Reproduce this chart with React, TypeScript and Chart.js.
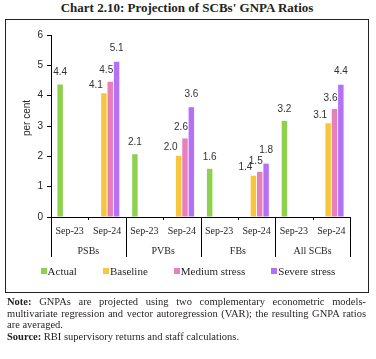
import React, { useEffect, useRef } from 'react';
import { Chart, registerables } from 'chart.js';

Chart.register(...registerables);

const categories = ['Sep-23', 'Sep-24', 'Sep-23', 'Sep-24', 'Sep-23', 'Sep-24', 'Sep-23', 'Sep-24'];
const groups = ['PSBs', 'PVBs', 'FBs', 'All SCBs'];
const seriesNames = ['Actual', 'Baseline', 'Medium stress', 'Severe stress'];
const actual = [4.37, null, 2.07, null, 1.59, null, 3.17, null];
const baseline = [null, 4.08, null, 2.02, null, 1.36, null, 3.09];
const medium = [null, 4.46, null, 2.59, null, 1.49, null, 3.56];
const severe = [null, 5.12, null, 3.62, null, 1.76, null, 4.36];
const yMin = 0;
const yMax = 6;
const yStep = 1;

const colors = ['#8fd14f', '#f8c63c', '#e77fb9', '#b571f6'];
const labelDx = [0, -8, -4, 0];
const labelDy = [12, 8, 11, 13];

const SANS = '"Liberation Sans", Arial, sans-serif';
const SERIF = '"Liberation Serif", "Times New Roman", serif';
const TEXT = '#262626';

const dataLabelPlugin = {
  id: 'dataLabels',
  afterDatasetsDraw(chart: any) {
    const ctx = chart.ctx;
    ctx.save();
    ctx.font = `10px ${SANS}`;
    ctx.fillStyle = '#333';
    ctx.textAlign = 'center';
    ctx.textBaseline = 'middle';
    chart.data.datasets.forEach((ds: any, i: number) => {
      const meta = chart.getDatasetMeta(i);
      meta.data.forEach((el: any, j: number) => {
        const v = ds.data[j];
        if (v == null) return;
        ctx.fillText(v.toFixed(1), el.x + labelDx[i], el.y - labelDy[i]);
      });
    });
    ctx.restore();
  },
};

const dividerPlugin = {
  id: 'dividers',
  afterDraw(chart: any) {
    const xs = chart.scales.x;
    const ctx = chart.ctx;
    const n = categories.length;
    const w = xs.getPixelForValue(1) - xs.getPixelForValue(0);
    ctx.save();
    ctx.strokeStyle = '#000';
    ctx.lineWidth = 1;
    for (let i = 0; i <= n; i++) {
      const px = Math.round(xs.getPixelForValue(0) - w / 2 + i * w) + 0.5;
      const len = i % 2 === 0 ? 40 : 3;
      ctx.beginPath();
      ctx.moveTo(px, xs.top);
      ctx.lineTo(px, xs.top + len);
      ctx.stroke();
    }
    // y-axis title
    const ys = chart.scales.y;
    ctx.font = `10px ${SANS}`;
    ctx.fillStyle = TEXT;
    ctx.textAlign = 'center';
    ctx.textBaseline = 'middle';
    ctx.translate(ys.left + 21, (ys.top + ys.bottom) / 2 - 8);
    ctx.rotate(-Math.PI / 2);
    ctx.fillText('per cent', 0, 0);
    ctx.restore();
  },
};

export default function App() {
  const ref = useRef<HTMLCanvasElement>(null);

  useEffect(() => {
    if (!ref.current) return;
    const chart = new Chart(ref.current, {
      type: 'bar',
      data: {
        labels: categories,
        datasets: [actual, baseline, medium, severe].map((d, i) => ({
          label: seriesNames[i],
          data: d,
          backgroundColor: colors[i],
          borderWidth: 0,
          categoryPercentage: 0.68,
          barPercentage: 0.86,
        })),
      },
      options: {
        animation: false,
        responsive: false,
        devicePixelRatio: 1,
        layout: { padding: { top: 15, right: 17, left: 0, bottom: 32 } },
        plugins: {
          legend: { display: false },
          tooltip: { enabled: false },
          title: { display: false },
        },
        scales: {
          x: {
            type: 'category',
            offset: true,
            grid: { display: false, drawTicks: false },
            border: { display: true, color: '#000', width: 1 },
            ticks: { font: { family: SERIF, size: 10 }, color: TEXT, padding: 8, maxRotation: 0, autoSkip: false },
            afterFit: (s: any) => { s.height = 20; },
          },
          x2: {
            type: 'category',
            labels: groups,
            position: 'bottom',
            offset: true,
            grid: { display: false, drawTicks: false },
            border: { display: false },
            ticks: { font: { family: SERIF, size: 10 }, color: TEXT, padding: 8, maxRotation: 0, autoSkip: false },
            afterFit: (s: any) => { s.height = 22; },
          },
          y: {
            min: yMin,
            max: yMax,
            ticks: { stepSize: yStep, font: { family: SANS, size: 10 }, color: TEXT, padding: 4 },
            grid: { display: true, drawOnChartArea: false, drawTicks: true, tickLength: 4, color: '#000' },
            border: { display: true, color: '#000', width: 1 },
            afterFit: (s: any) => { s.width = 45; },
          },
        },
      } as any,
      plugins: [dataLabelPlugin, dividerPlugin],
    });
    return () => chart.destroy();
  }, []);

  return (
    <div style={{ position: 'absolute', left: 0, top: 0, width: 376, height: 359, background: '#fff', color: '#231f20', fontFamily: SERIF }}>
      <div style={{ position: 'absolute', top: 0, left: 0, width: 374, textAlign: 'center', fontWeight: 'bold', fontSize: 13, lineHeight: '15px' }}>
        Chart 2.10: Projection of SCBs' GNPA Ratios
      </div>
      <div style={{ position: 'absolute', left: 5, top: 19, width: 364, height: 274, border: '1px solid #222', boxSizing: 'border-box' }} />
      <canvas ref={ref} width={361} height={271} style={{ position: 'absolute', left: 6, top: 20, width: 361, height: 271 }} />
      <div style={{ position: 'absolute', left: 0, top: 264, width: 376, display: 'flex', justifyContent: 'center', gap: 26, fontSize: 11, lineHeight: '14px' }}>
        {seriesNames.map((n, i) => (
          <div key={n} style={{ display: 'flex', alignItems: 'center' }}>
            <span style={{ display: 'inline-block', width: 6, height: 6, background: colors[i], marginRight: 1 }} />
            <span>{n}</span>
          </div>
        ))}
      </div>
      <div style={{ position: 'absolute', left: 7, top: 296, width: 359, fontSize: 10.5, lineHeight: '11.5px' }}>
        <div style={{ textAlign: 'justify', textAlignLast: 'justify', whiteSpace: 'nowrap' }}>
          <b>Note:</b> GNPAs are projected using two complementary econometric models-
        </div>
        <div style={{ textAlign: 'justify', textAlignLast: 'justify', whiteSpace: 'nowrap' }}>
          multivariate regression and vector autoregression (VAR); the resulting GNPA ratios
        </div>
        <div>are averaged.</div>
        <div><b>Source:</b> RBI supervisory returns and staff calculations.</div>
      </div>
    </div>
  );
}
